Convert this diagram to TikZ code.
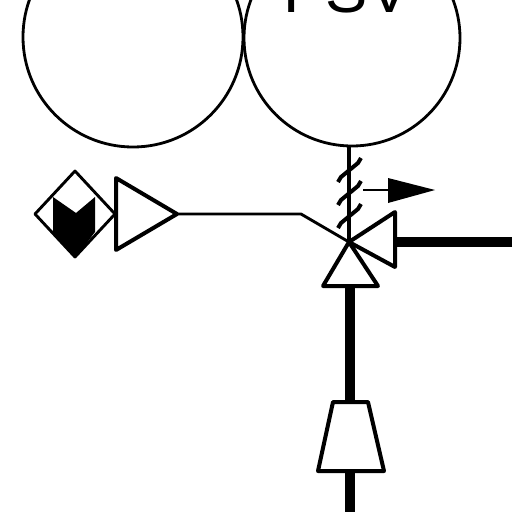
\documentclass[tikz,border=0pt]{standalone}
\usepackage{fontspec}
\setmainfont{Liberation Sans}
\usetikzlibrary{positioning, calc}

\begin{document}
\begin{tikzpicture}[x=0.25mm, y=-0.25mm, line join=round]
	\tikzstyle{tank}=[circle, draw=black, line width=0.7mm, inner sep=0pt]
	\tikzstyle{thin}=[draw=black, line width=0.72mm]
	\tikzstyle{medium}=[draw=black, line width=1mm]
	\tikzstyle{pipe}=[draw=black, line width=2.5mm]
	\clip (0,0) rectangle (512,512);
	\fill[white] (0,0) rectangle (512,512);

	\node (vesselL) at (133,37) [tank, minimum size=55mm]{};
	\node (vesselR) at (352,38) [tank, minimum size=54mm]{};
	\node (tag) at (347,12) [anchor=base, inner sep=0pt, font=\fontsize{45}{45}\selectfont]{PSV};

	% valve body
	\coordinate (valve) at (349,242);
	\coordinate (portR) at (395,242);
	\coordinate (portB) at (350,286);
	\coordinate (reducerT) at (350,402);
	\coordinate (reducerB) at (350,471);
	\coordinate (pipeEndR) at (512,242);
	\coordinate (pipeEndB) at (350,512);
	\draw[medium] (valve) -- (395,212) -- (395,267) -- cycle;
	\draw[medium] (valve) -- (323,286) -- (378,286) -- cycle;
	\draw[pipe] (portR) -- (pipeEndR);
	\draw[pipe] (portB) -- (reducerT);

	% stem and flow arrow
	\draw[line width=1.2mm] (valve |- vesselR.south) -- (valve);
	\foreach \y in {0,23,46}
		\draw[medium] (338,182+\y) -- (341,177+\y) -- (358,163+\y) -- (361,158+\y);
	\coordinate (flowA) at (363,190);
	\coordinate (flowB) at (388,190);
	\draw[thin] (flowA) -- (flowB);
	\fill[black] (388,178) -- (435,190) -- (388,203) -- cycle;

	% signal line and actuator
	\coordinate (ampTip) at (177,214);
	\draw[thin] (ampTip) -- (301,214) -- (valve);
	\draw[medium] (116,178) -- (ampTip) -- (116,250) -- cycle;
	\draw[thin] (75,171) -- (115,214) -- (75,257) -- (35,214) -- cycle;
	\fill[black] (53,197) -- (76,213) -- (95,197) -- (95,232) -- (76,257) -- (53,235) -- cycle;

	% reducer
	\draw[medium] (333,402) -- (368,402) -- (384,471) -- (318,471) -- cycle;
	\draw[pipe] (reducerB) -- (pipeEndB);
\end{tikzpicture}
\end{document}
